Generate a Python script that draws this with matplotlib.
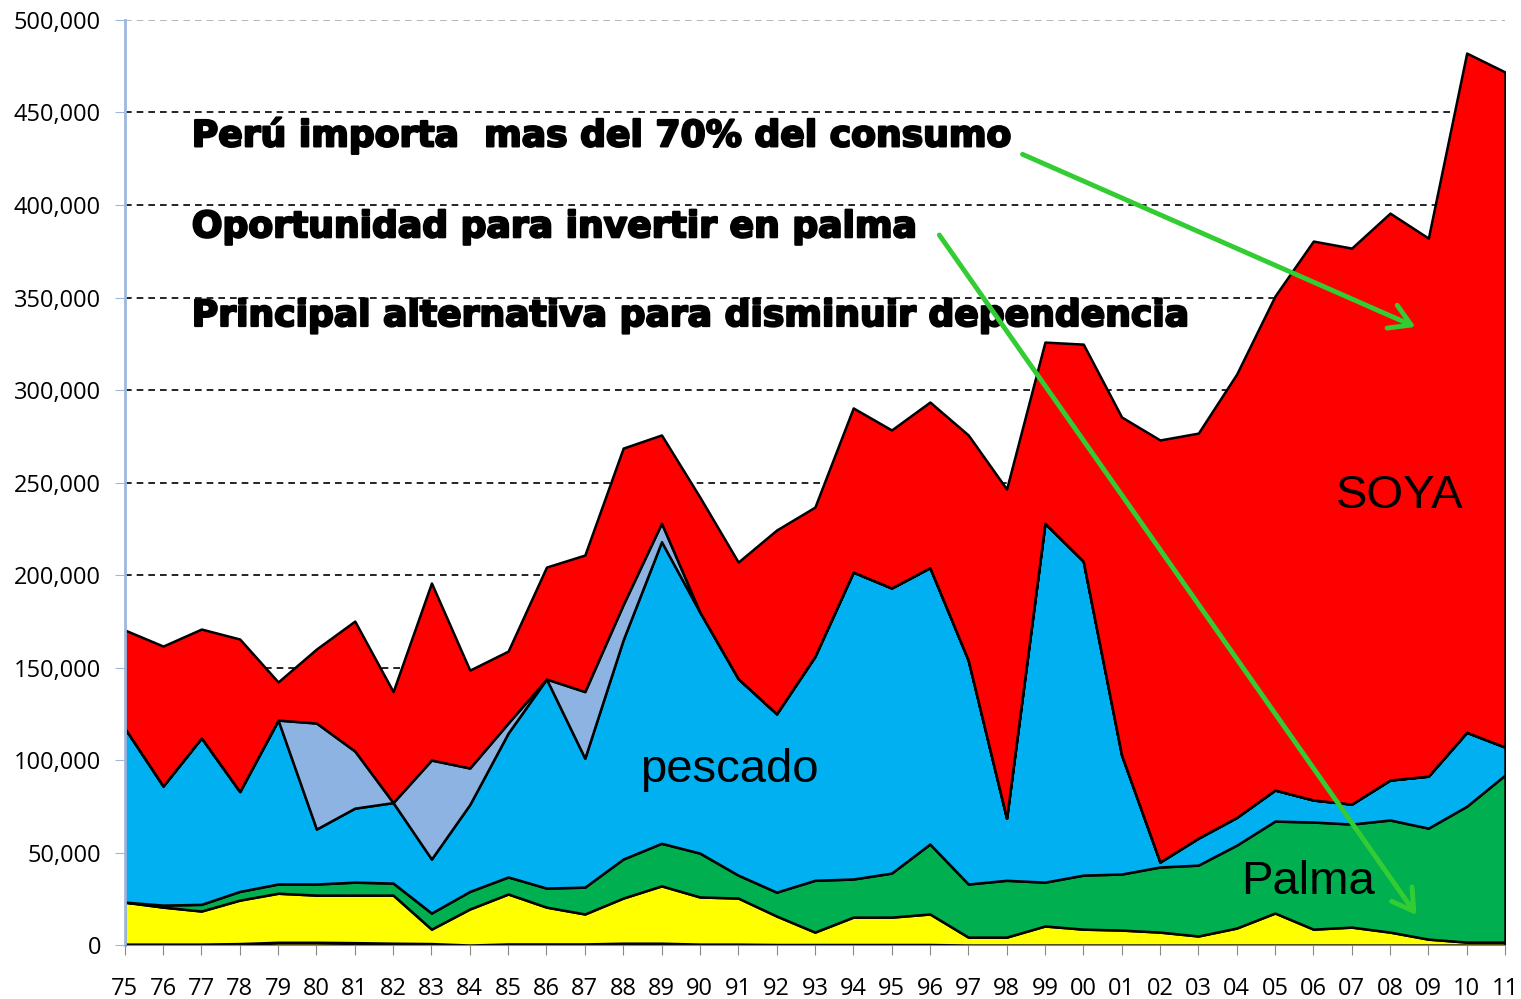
import matplotlib.pyplot as plt
import matplotlib.patheffects as pe
from matplotlib.ticker import FuncFormatter

years = ['75', '76', '77', '78', '79', '80', '81', '82', '83', '84', '85', '86',
         '87', '88', '89', '90', '91', '92', '93', '94', '95', '96', '97', '98',
         '99', '00', '01', '02', '03', '04', '05', '06', '07', '08', '09', '10', '11']

# toneladas (miles)
otros = [0.5, 0.5, 0.5, 0.8, 1.5, 1.5, 1.3, 1.0, 0.8, 0, 0.6, 0.6, 0.6, 1.0, 1.0, 0.5,
         0.5, 0.3, 0.3, 0.3, 0.3, 0.3, 0, 0, 0, 0, 0, 0, 0, 0, 0, 0, 0, 0, 0, 0, 0]
amarillo = [22.7, 20.0, 17.9, 23.5, 26.5, 25.5, 25.7, 26.0, 7.8, 19.5, 27.0, 19.9, 16.2,
            24.4, 31.0, 25.5, 24.9, 15.4, 6.7, 14.8, 14.8, 16.5, 4.3, 4.3, 10.3, 8.6,
            8.1, 7.0, 4.9, 9.2, 17.3, 8.6, 9.7, 7.0, 3.2, 1.6, 1.6]
palma = [0, 1.1, 3.6, 4.7, 5.0, 6.0, 7.0, 6.5, 8.7, 9.5, 9.2, 10.3, 14.5, 21.1, 23.0,
         23.7, 12.4, 12.9, 28.0, 20.6, 23.8, 37.8, 28.7, 30.7, 23.7, 29.2, 30.3, 35.2,
         38.3, 44.8, 49.7, 57.9, 55.7, 60.6, 60.0, 73.4, 90.3]
pescado = [94.1, 64.4, 90.0, 54.0, 88.6, 29.7, 40.0, 43.5, 29.2, 47.0, 77.8, 113.0, 69.7,
           118.5, 163.0, 130.3, 106.2, 96.4, 121.0, 165.9, 154.1, 149.4, 121.0, 33.6,
           194.0, 169.7, 64.3, 2.7, 14.6, 15.0, 16.8, 11.9, 10.8, 21.6, 28.1, 40.0, 15.1]
pescado2 = [0, 0, 0, 0, 0, 57.3, 30.9, 0, 53.5, 19.7, 5.4, 0, 36.0, 19.0, 10.0, 0,
            0, 0, 0, 0, 0, 0, 0, 0, 0, 0, 0, 0, 0, 0, 0, 0, 0, 0, 0, 0, 0]
soya = [53.0, 75.6, 58.8, 82.4, 20.6, 40.0, 70.2, 60.0, 95.7, 52.9, 38.9, 60.5, 73.8,
        84.6, 47.7, 62.1, 63.0, 99.3, 80.7, 88.7, 85.4, 89.5, 121.7, 177.9, 97.9, 117.3,
        182.7, 228.1, 218.9, 239.6, 267.0, 302.1, 300.5, 306.4, 290.8, 367.1, 364.9]

series = [otros, amarillo, palma, pescado, pescado2, soya]
series = [[v * 1000 for v in s] for s in series]
colors = ['#ffff00', '#ffff00', '#00b050', '#00b0f0', '#8db3e2', '#ff0000']

fig = plt.figure(figsize=(15.21, 9.99), dpi=100)
ax = fig.add_axes([0.082, 0.054, 0.9075, 0.926])

x = list(range(len(years)))
ax.stackplot(x, *series, colors=colors, edgecolor='black', linewidth=1.8)

ax.set_xlim(0, len(years) - 1)
ax.set_ylim(0, 500000)
ax.set_yticks(range(0, 500001, 50000))
ax.yaxis.set_major_formatter(FuncFormatter(lambda v, p: f'{int(v):,}'))
ax.set_xticks(x)
ax.set_xticklabels(years)
ax.tick_params(axis='y', labelsize=17, colors='#9db8e0', labelcolor='black', length=7, pad=10)
ax.tick_params(axis='x', labelsize=17, colors='#888888', labelcolor='black', length=7, pad=16)
for lbl in ax.get_xticklabels() + ax.get_yticklabels():
    lbl.set_fontfamily('Open Sans')

ax.set_axisbelow(True)
ax.grid(axis='y', linestyle=(0, (4, 3)), color='black', linewidth=1.2)
ax.get_ygridlines()[-1].set_color('#aaaaaa')
ax.spines['top'].set_visible(False)
ax.spines['right'].set_visible(False)
ax.spines['left'].set_color('#9db8e0')
ax.spines['left'].set_linewidth(2)
ax.spines['bottom'].set_color('#888888')

# textos
tfont = dict(fontsize=26, fontweight='heavy', family='DejaVu Sans', transform=ax.transAxes,
             va='center', ha='left',
             path_effects=[pe.withStroke(linewidth=1.6, foreground='black')])
ax.text(0.0486, 0.875, 'Perú importa  mas del 70% del consumo', **tfont)
ax.text(0.0486, 0.776, 'Oportunidad para invertir en palma', **tfont)
ax.text(0.0486, 0.680, 'Principal alternativa para disminuir dependencia', **tfont)

lfont = dict(fontsize=34, family='Liberation Sans', transform=ax.transAxes, ha='center', va='center')
ax.text(0.924, 0.485, 'SOYA', **lfont)
ax.text(0.438, 0.189, 'pescado', **lfont)
ax.text(0.857, 0.068, 'Palma', **lfont)

arrow = dict(arrowstyle='->,head_length=0.5,head_width=0.3', color='#33cc33', lw=3.5,
             mutation_scale=30)
ax.annotate('', xy=(0.937, 0.667), xytext=(0.6486, 0.856), xycoords='axes fraction',
            textcoords='axes fraction', arrowprops=arrow)
ax.annotate('', xy=(0.937, 0.030), xytext=(0.589, 0.770), xycoords='axes fraction',
            textcoords='axes fraction', arrowprops=arrow)

fig.savefig('out.png', dpi=100)
